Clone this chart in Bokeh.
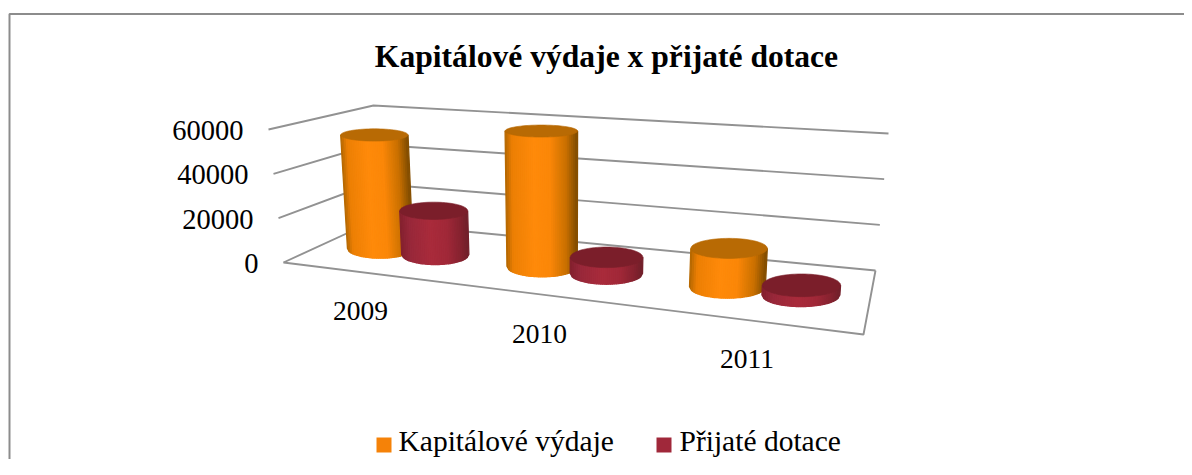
from bokeh.embed import file_html
from bokeh.resources import INLINE
from bokeh.plotting import figure
from bokeh.models import Range1d
from bokeh.core.properties import value
import numpy as np

# ---- data ----
years = ["2009", "2010", "2011"]
kapitalove = [53700, 61500, 16700]
prijate = [20400, 7200, 4100]
y_ticks = [0, 20000, 40000, 60000]
title = "Kapitálové výdaje x přijaté dotace"
series_names = ["Kapitálové výdaje", "Přijaté dotace"]

# ---- layout / projection of the 3D box ----
FONT = value("Liberation Serif")
VMAX = 60000
FL, FR, BR, BL = [np.array(c, float) for c in [(283, 262), (863, 334), (875, 270), (370, 222)]]
UP_FL, UP_FR, UP_BR, UP_BL = [np.array(c, float) for c in [(-15, -133), (14, -148), (13, -137), (3, -117)]]
BAR_OFFSET = 0.059
CENTER_SHIFT = [0.014, 0.010, 0.002]
GRID = "#929292"


def warp(u):
    return u * (0.78 + 0.22 * u)


def bil(a, b, c, d, w, v):
    return (1 - v) * ((1 - w) * a + w * b) + v * ((1 - w) * d + w * c)


def P(u, v, val=0):
    w = warp(u)
    return bil(FL, FR, BR, BL, w, v) + val / VMAX * bil(UP_FL, UP_FR, UP_BR, UP_BL, w, v)


p = figure(width=1184, height=459, x_range=Range1d(0, 1184), y_range=Range1d(459, 0),
           x_axis_type=None, y_axis_type=None, toolbar_location=None,
           output_backend="svg", min_border=0, outline_line_color=None,
           background_fill_color="white", border_fill_color="white")
p.grid.visible = False

# chart frame
p.line([9, 9, 1184], [459, 13.5, 13.5], line_color="#8c8c8c", line_width=2)

# walls and floor
for val in y_ticks:
    a, b, c = P(0, 0, val), P(0, 1, val), P(1, 1, val)
    p.line([a[0], b[0], c[0]], [a[1], b[1], c[1]], line_color=GRID, line_width=1.9)
a, b, c = P(0, 0), P(1, 0), P(1, 1)
p.line([a[0], b[0], c[0]], [a[1], b[1], c[1]], line_color=GRID, line_width=1.9)

ORANGE = {"stops": [(-1, "#b06600"), (-0.8, "#ec7f04"), (-0.2, "#ff8a0a"), (0.25, "#fb8708"),
                    (0.7, "#c97000"), (1, "#7f4c00")], "cap": "#b86a04"}
RED = {"stops": [(-1, "#82202e"), (-0.7, "#98283a"), (-0.1, "#a92b3b"), (0.4, "#a02838"),
                 (0.8, "#84222f"), (1, "#70202a")], "cap": "#7b1e2a"}


def hex2rgb(c):
    return np.array([int(c[i:i + 2], 16) for i in (1, 3, 5)], float)


def shade(stops, s):
    xs = [a for a, _ in stops]
    rgb = np.array([hex2rgb(c) for _, c in stops])
    vals = [int(round(np.interp(s, xs, rgb[:, k]))) for k in range(3)]
    return "#%02x%02x%02x" % tuple(vals)


def cylinder(u, val, style, n=36):
    v = 0.5
    bc = P(u, v, 0)
    tc = P(u, v, val)
    h = val / VMAX
    tc[0] -= 2.5 * h
    brx = 32 + 8 * warp(u)
    trx = brx * (1 + 0.03 * h)
    bry = 0.3 * brx
    try_ = bry * (1 - 0.42 * h)
    ss = np.linspace(-1, 1, n + 1)
    xs, ys, cols = [], [], []
    for s0, s1 in zip(ss[:-1], ss[1:]):
        f0, f1 = np.sqrt(1 - s0 ** 2), np.sqrt(1 - s1 ** 2)
        xs.append([tc[0] + trx * s0, tc[0] + trx * s1, bc[0] + brx * s1, bc[0] + brx * s0])
        ys.append([tc[1] + try_ * f0, tc[1] + try_ * f1, bc[1] + bry * f1, bc[1] + bry * f0])
        cols.append(shade(style["stops"], (s0 + s1) / 2))
    p.patches(xs, ys, fill_color=cols, line_color=cols, line_width=1.3)
    th = np.linspace(0, 2 * np.pi, 73)
    p.patch(tc[0] + trx * np.cos(th), tc[1] + try_ * np.sin(th),
            fill_color=style["cap"], line_color=style["cap"], line_width=0.6)


for i in range(len(years)):
    uc = (i + 0.5) / len(years) + CENTER_SHIFT[i]
    cylinder(uc - BAR_OFFSET, kapitalove[i], ORANGE)
    cylinder(uc + BAR_OFFSET, prijate[i], RED)

# value labels
for val in y_ticks:
    q = P(0, 0, val)
    p.text([q[0] - 25], [q[1] + 1], text=[str(val)], text_font=FONT, text_font_size="28.5px",
           text_align="right", text_baseline="middle", text_color="#000000")

# category labels
for i, y in enumerate(years):
    q = P((i + 0.5) / len(years), 0)
    p.text([q[0] - 2], [q[1] + 39], text=[y], text_font=FONT, text_font_size="27.5px",
           text_align="center", text_baseline="middle", text_color="#000000")

# title
p.text([606], [56], text=[title], text_font=FONT, text_font_size="31.6px", text_font_style="bold",
       text_align="center", text_baseline="middle", text_color="#000000")

# legend
p.quad(left=[376, 656], right=[391, 671], top=[437, 437], bottom=[452, 452],
       fill_color=["#f58208", "#a0283a"], line_color=None)
p.text([398, 679], [440, 440], text=series_names, text_font=FONT, text_font_size="29.5px",
       text_align="left", text_baseline="middle", text_color="#000000")

open("out.html", "w").write(file_html(p, INLINE))
